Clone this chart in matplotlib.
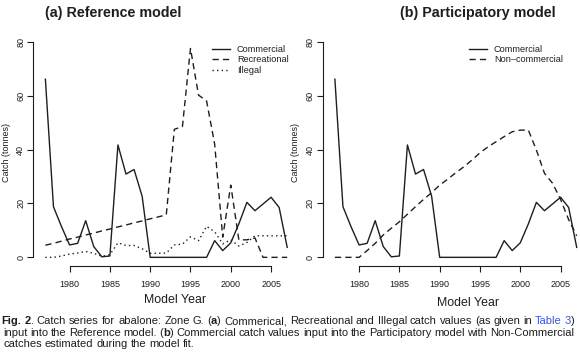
import matplotlib
matplotlib.use('Agg')
import matplotlib.pyplot as plt
from matplotlib.transforms import IdentityTransform

# ---------- DATA ----------
years = list(range(1977, 2008))
commercial = [66.1, 18.8, 11.4, 4.6, 5.2, 13.6, 4.0, 0.2, 0.5, 41.7, 30.9, 32.6, 22.7,
              0, 0, 0, 0, 0, 0, 0, 0,
              6.2, 2.5, 5.4, 12.4, 20.4, 17.3, 19.8, 22.3, 18.5, 3.7]
recreational = [4.5, 5.2, 6.0, 6.8, 7.5, 8.3, 9.0, 9.8, 10.5, 11.3, 12.0, 12.8, 13.5, 14.3, 15.0, 15.8,
                47.5, 48.5, 77.5, 60.2, 58.0,
                42.0, 7.5, 26.8, 6.5, 6.5, 7.2, 0, 0, 0, 0]
illegal = [0, 0, 0.5, 1.2, 1.6, 2.2, 1.5, 0.4, 1.0, 5.4, 4.4, 4.4, 3.2,
           1.5, 1.5, 1.6, 4.6, 4.9, 7.6, 6.2, 11.5,
           9.5, 5.0, 6.5, 4.2, 5.5, 8.0, 8.0, 8.0, 8.0, 8.0]
non_commercial = [0, 0, 0, 0,
                  2.5, 5.2, 8.3, 10.8, 13.2, 16.0, 18.8, 21.5, 24.0, 26.8, 29.0, 31.4, 33.6, 36.1,
                  38.8, 41.0, 42.9, 44.8, 46.6,
                  47.2, 47.2, 39.8, 31.2, 27.5, 21.5, 14.0, 8.0]
xticks = [1980, 1985, 1990, 1995, 2000, 2005]
yticks = [0, 20, 40, 60, 80]

# ---------- STYLE ----------
plt.rcParams['font.family'] = 'Liberation Sans'
W, H = 580, 360
INK = '#1e1e1e'
BLUE = '#3b55d9'
DASH = (4.5, 3.0)
DOT = (1.0, 2.3)

fig = plt.figure(figsize=(W / 100, H / 100), dpi=100)
ident = IdentityTransform()


def ftext(x, y, s, **kw):
    # x, y in pixels from top-left
    return fig.text(x, H - y, s, transform=ident, color=kw.pop('color', INK), **kw)


def make_axes(left_px):
    ax = fig.add_axes([left_px / W, 1 - 265.7 / H, 266 / W, 232.6 / H])
    ax.set_xlim(1975.5, 2008.5)
    ax.set_ylim(-3.1, 83.2)
    for s in ['top', 'right']:
        ax.spines[s].set_visible(False)
    for s in ['left', 'bottom']:
        ax.spines[s].set_linewidth(0.8)
        ax.spines[s].set_color(INK)
    ax.spines['bottom'].set_bounds(1980, 2005)
    ax.spines['left'].set_bounds(0, 80)
    ax.set_xticks(xticks)
    ax.set_yticks(yticks)
    ax.tick_params(direction='out', length=4.3, width=0.8, colors=INK, labelsize=6.5)
    ax.tick_params(axis='x', pad=6.3)
    ax.tick_params(axis='y', pad=1.5)
    for lab in ax.get_yticklabels():
        lab.set_rotation(90)
        lab.set_va('center')
    ax.patch.set_visible(False)
    return ax


def add_legend(ax, handles, x_px):
    ax.legend(handles=handles, loc='upper left', bbox_to_anchor=(x_px / W, 1 - 45 / H),
              bbox_transform=fig.transFigure, frameon=False, fontsize=6.6, handlelength=1.96,
              handletextpad=0.76, labelspacing=0.15, borderpad=0, borderaxespad=0, labelcolor=INK)


# ---------- (a) REFERENCE MODEL ----------
ax1 = make_axes(33.3)
l1, = ax1.plot(years, commercial, color=INK, lw=1.0, label='Commercial')
l2, = ax1.plot(years, recreational, color=INK, lw=1.0, dashes=DASH, label='Recreational')
l3, = ax1.plot(years, illegal, color=INK, lw=1.0, dashes=DOT, label='Illegal')
add_legend(ax1, [l1, l2, l3], 212)

# ---------- (b) PARTICIPATORY MODEL ----------
ax2 = make_axes(322.8)
m1, = ax2.plot(years, commercial, color=INK, lw=1.0, label='Commercial')
m2, = ax2.plot(years, non_commercial, color=INK, lw=1.0, dashes=DASH, label='Non\u2013commercial')
add_legend(ax2, [m1, m2], 469)

# ---------- TITLES / LABELS ----------
ftext(45, 17.5, '(a) Reference model', fontsize=10.3, fontweight='bold', ha='left', va='baseline')
ftext(400, 17.5, '(b) Participatory model', fontsize=10.3, fontweight='bold', ha='left', va='baseline')
ftext(7, 152, 'Catch (tonnes)', fontsize=6.5, rotation=90, ha='center', va='center')
ftext(296, 152, 'Catch (tonnes)', fontsize=6.5, rotation=90, ha='center', va='center')
ftext(175, 303, 'Model Year', fontsize=8.9, ha='center', va='baseline')
ftext(468, 305.5, 'Model Year', fontsize=8.9, ha='center', va='baseline')

# ---------- CAPTION ----------
renderer = fig.canvas.get_renderer()
CAP = 8.0


def caption_line(runs, y, x0, x1=None):
    words = [[]]
    for text, bold, color in runs:
        for i, part in enumerate(text.split(' ')):
            if i > 0:
                words.append([])
            if part:
                words[-1].append((part, bold, color))
    words = [w for w in words if w]
    placed = []
    total = 0
    for w in words:
        segs = []
        for part, bold, color in w:
            t = ftext(0, y, part, fontsize=CAP, fontweight='bold' if bold else 'normal',
                      color=color, ha='left', va='baseline')
            wd = t.get_window_extent(renderer=renderer).width
            segs.append((t, wd))
            total += wd
        placed.append(segs)
    probe = ftext(0, y, 'a a', fontsize=CAP)
    probe2 = ftext(0, y, 'aa', fontsize=CAP)
    space = probe.get_window_extent(renderer).width - probe2.get_window_extent(renderer).width
    probe.remove()
    probe2.remove()
    gap = space
    if x1 is not None and len(placed) > 1:
        gap = max((x1 - x0 - total) / (len(placed) - 1), space * 0.6)
    x = x0
    for segs in placed:
        for t, wd in segs:
            t.set_x(x)
            x += wd
        x += gap


caption_line([('Fig. 2', True, INK), ('. Catch series for abalone: Zone G. (', False, INK),
              ('a', True, INK),
              (') Commerical, Recreational and Illegal catch values (as given in ', False, INK),
              ('Table 3', False, BLUE), (')', False, INK)], 324, 1.7, 575)
caption_line([('input into the Reference model. (', False, INK), ('b', True, INK),
              (') Commercial catch  values input into the Participatory model with Non-Commercial',
               False, INK)], 335.7, 3, 574)
caption_line([('catches estimated during the model fit.', False, INK)], 347.4, 3)

plt.savefig('out.png', dpi=100)
